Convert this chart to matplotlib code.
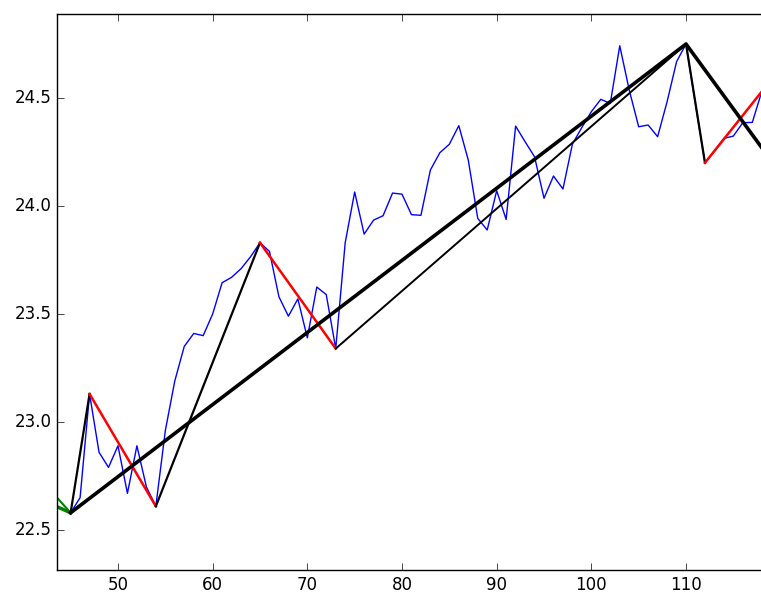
import numpy as np
import matplotlib
matplotlib.use('Agg')
import matplotlib.pyplot as plt

# blue price series
x = list(range(45, 119))
price = [22.58, 22.65, 23.13, 22.86, 22.79, 22.89, 22.67, 22.89, 22.70, 22.61,
         22.96, 23.19, 23.35, 23.41, 23.40, 23.50, 23.645, 23.67, 23.71, 23.765,
         23.83, 23.79, 23.58, 23.49, 23.57, 23.39, 23.625, 23.59, 23.34, 23.83,
         24.065, 23.87, 23.935, 23.955, 24.06, 24.055, 23.96, 23.957, 24.167, 24.247,
         24.286, 24.372, 24.213, 23.943, 23.889, 24.071, 23.938, 24.37, 24.298, 24.228,
         24.036, 24.139, 24.079, 24.287, 24.364, 24.437, 24.494, 24.475, 24.742, 24.537,
         24.367, 24.375, 24.321, 24.483, 24.668, 24.75, 24.47, 24.20, 24.255, 24.313,
         24.324, 24.386, 24.387, 24.53]

# zigzag pivots
piv_x = [45, 47, 54, 65, 73, 110, 112, 118]
piv_y = [22.58, 23.13, 22.61, 23.83, 23.34, 24.75, 24.20, 24.53]
seg_col = ['black', 'red', 'black', 'red', None, 'black', 'red']

# green lead-in segments
green_thin = ([43, 45], [22.677, 22.58])
green_thick = ([43, 45], [22.619, 22.58])

# trend lines
trend_thick = ([45, 110, 118], [22.58, 24.75, 24.27])
trend_thin = ([73, 110], [23.34, 24.75])

plt.style.use('classic')
fig = plt.figure(figsize=(7.61, 5.92), dpi=100, facecolor='white')
ax = fig.add_axes([57 / 761, 22 / 592, 1.003 - 57 / 761, 556 / 592])

ax.plot(x, price, color='blue', linewidth=1.0)
ax.plot(*green_thin, color='green', linewidth=1.5)
ax.plot(*green_thick, color='green', linewidth=2.5)
for i, c in enumerate(seg_col):
    if c is None:
        continue
    ax.plot(piv_x[i:i + 2], piv_y[i:i + 2], color=c,
            linewidth=1.6 if c == 'black' else 1.8)
ax.plot(*trend_thin, color='black', linewidth=1.4)
ax.plot(*trend_thick, color='black', linewidth=2.6)

ax.set_xlim(43.56, 118.16)
ax.set_ylim(22.315, 24.889)
ax.set_xticks([50, 60, 70, 80, 90, 100, 110])
ax.set_yticks([22.5, 23.0, 23.5, 24.0, 24.5])
ax.set_yticklabels(['22.5', '23.0', '23.5', '24.0', '24.5'])
ax.tick_params(labelsize=12, direction='in', length=5)
ax.tick_params(axis='y', right=False)

fig.savefig('out.png', dpi=100, facecolor='white')
